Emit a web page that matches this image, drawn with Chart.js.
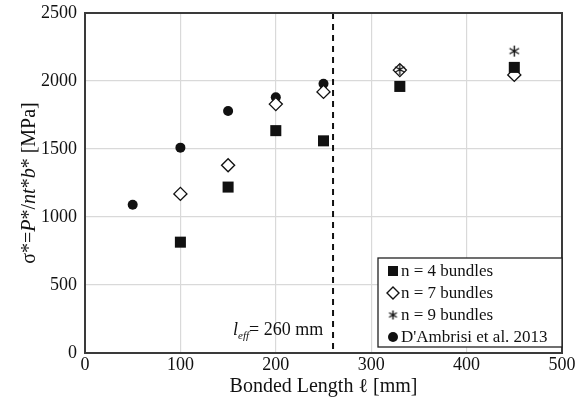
<!DOCTYPE html>
<html><head><meta charset="utf-8">
<script src="https://cdn.jsdelivr.net/npm/chart.js@4/dist/chart.umd.min.js"></script>
<style>html,body{margin:0;padding:0;background:#fff}#wrap{width:581px;height:403px}</style>
</head><body><div id="wrap"><canvas id="c" width="581" height="403"></canvas></div>
<script>
const xTicks = [0, 100, 200, 300, 400, 500];
const yTicks = [0, 500, 1000, 1500, 2000, 2500];
const n4x = [100, 150, 200, 250, 330, 450];
const n4y = [815, 1220, 1635, 1560, 1960, 2100];
const n7x = [100, 150, 200, 250, 330, 450];
const n7y = [1170, 1380, 1830, 1920, 2080, 2045];
const n9x = [330, 450];
const n9y = [2085, 2220];
const dax = [50, 100, 150, 200, 250];
const day = [1090, 1510, 1780, 1880, 1980];
const leff = 260;
const seriesNames = ['n = 4 bundles', 'n = 7 bundles', 'n = 9 bundles', "D'Ambrisi et al. 2013"];

const FONT = 'Liberation Serif';
function pts(xs, ys){ return xs.map((x,i)=>({x:x, y:ys[i]})); }

function asteriskCanvas(s){
  const c = document.createElement('canvas');
  c.width = s; c.height = s;
  const g = c.getContext('2d');
  g.strokeStyle = '#111'; g.lineWidth = 1.4;
  const h = s/2, r = s/2 - 1;
  g.beginPath();
  for (const a of [30, 90, 150]) {
    const rad = a*Math.PI/180;
    g.moveTo(h - r*Math.cos(rad), h - r*Math.sin(rad));
    g.lineTo(h + r*Math.cos(rad), h + r*Math.sin(rad));
  }
  g.stroke();
  return c;
}
const ast = asteriskCanvas(13);
const astSmall = asteriskCanvas(11);

const decor = {
  id: 'decor',
  beforeDatasetsDraw(chart){
    const {ctx, chartArea:a, scales:{x}} = chart;
    ctx.save();
    const px = x.getPixelForValue(leff);
    ctx.strokeStyle = '#111'; ctx.lineWidth = 2; ctx.setLineDash([6,5]);
    ctx.beginPath(); ctx.moveTo(px, a.top); ctx.lineTo(px, a.bottom); ctx.stroke();
    ctx.setLineDash([]);
    ctx.strokeStyle = '#3a3a3a'; ctx.lineWidth = 2;
    ctx.strokeRect(a.left, a.top, a.right - a.left, a.bottom - a.top);
    // annotation
    ctx.fillStyle = '#111'; ctx.textBaseline = 'alphabetic';
    let tx = px - 100, ty = a.bottom - 18;
    ctx.font = 'italic 18px "' + FONT + '"';
    ctx.fillText('l', tx, ty); tx += ctx.measureText('l').width;
    ctx.font = 'italic 11px "' + FONT + '"';
    ctx.fillText('eff', tx, ty + 4); tx += ctx.measureText('eff').width;
    ctx.font = '18px "' + FONT + '"';
    ctx.fillText('= 260 mm', tx, ty);
    ctx.restore();
  },
  afterDraw(chart){
    const {ctx, chartArea:a} = chart;
    ctx.save();
    // y axis title
    const parts = [['σ*=',''],['P','italic '],['*/',''],['nt','italic '],['*',''],['b','italic '],['* [MPa]','']];
    const fs = '20px "' + FONT + '"';
    let total = 0;
    for (const [t,s] of parts){ ctx.font = s + fs; total += ctx.measureText(t).width; }
    ctx.translate(35, (a.top + a.bottom)/2);
    ctx.rotate(-Math.PI/2);
    ctx.fillStyle = '#111'; ctx.textBaseline = 'alphabetic';
    let cx = -total/2;
    for (const [t,s] of parts){ ctx.font = s + fs; ctx.fillText(t, cx, 0); cx += ctx.measureText(t).width; }
    ctx.restore();
    // legend
    ctx.save();
    const lx = a.right - 184, ly = a.bottom - 95, lw = 184, lh = 89;
    ctx.fillStyle = '#fff'; ctx.fillRect(lx, ly, lw, lh);
    ctx.strokeStyle = '#222'; ctx.lineWidth = 1.3; ctx.strokeRect(lx, ly, lw, lh);
    ctx.font = '17px "' + FONT + '"'; ctx.fillStyle = '#111'; ctx.textBaseline = 'middle';
    for (let i=0;i<4;i++){
      const ry = ly + 13 + i*22, mx = lx + 15;
      ctx.fillStyle = '#111'; ctx.strokeStyle = '#111'; ctx.lineWidth = 1.4;
      if (i===0) ctx.fillRect(mx-5, ry-5, 10, 10);
      else if (i===1){ ctx.fillStyle='#fff'; ctx.beginPath(); ctx.moveTo(mx, ry-6); ctx.lineTo(mx+6, ry); ctx.lineTo(mx, ry+6); ctx.lineTo(mx-6, ry); ctx.closePath(); ctx.fill(); ctx.stroke(); }
      else if (i===2) ctx.drawImage(astSmall, mx-5.5, ry-5.5);
      else { ctx.beginPath(); ctx.arc(mx, ry, 5, 0, Math.PI*2); ctx.fill(); }
      ctx.fillStyle = '#111';
      ctx.fillText(seriesNames[i], lx + 23, ry + 1);
    }
    ctx.restore();
  }
};

new Chart(document.getElementById('c'), {
  type: 'scatter',
  data: { datasets: [
    { label: seriesNames[0], data: pts(n4x, n4y), order: 0, pointStyle: 'rect', pointRadius: 7.8, backgroundColor: '#111', borderColor: '#111', borderWidth: 0 },
    { label: seriesNames[1], data: pts(n7x, n7y), order: 1, pointStyle: 'rectRot', pointRadius: 6.5, backgroundColor: '#fff', borderColor: '#111', borderWidth: 1.4 },
    { label: seriesNames[2], data: pts(n9x, n9y), order: -1, pointStyle: ast, pointRadius: 6.5, backgroundColor: '#111', borderColor: '#111' },
    { label: seriesNames[3], data: pts(dax, day), order: 2, pointStyle: 'circle', pointRadius: 5, backgroundColor: '#111', borderColor: '#111', borderWidth: 0 }
  ]},
  options: {
    responsive: false, animation: false, devicePixelRatio: 1,
    layout: { padding: { left: 0, right: 19, top: 13, bottom: 0 } },
    plugins: { legend: { display: false }, tooltip: { enabled: false } },
    scales: {
      x: {
        type: 'linear', min: xTicks[0], max: xTicks[xTicks.length-1],
        afterBuildTicks(s){ s.ticks = xTicks.map(v=>({value:v})); },
        afterFit(s){ s.height = 50; s.paddingLeft = 0; s.paddingRight = 0; },
        ticks: { color: '#111', font: { family: FONT, size: 18 }, padding: 1, maxRotation: 0, callback: v => String(v) },
        grid: { color: '#d9d9d9', lineWidth: 1.2, drawTicks: false },
        border: { color: '#3a3a3a', width: 2 },
        title: { display: true, text: 'Bonded Length ℓ [mm]', color: '#111', font: { family: FONT, size: 20 }, padding: { top: 3 } }
      },
      y: {
        type: 'linear', min: yTicks[0], max: yTicks[yTicks.length-1],
        afterBuildTicks(s){ s.ticks = yTicks.map(v=>({value:v})); },
        afterFit(s){ s.width = 85; s.paddingTop = 0; s.paddingBottom = 0; },
        ticks: { color: '#111', font: { family: FONT, size: 18 }, padding: 8, callback: v => String(v) },
        grid: { color: '#d9d9d9', lineWidth: 1.2, drawTicks: false },
        border: { color: '#3a3a3a', width: 2 }
      }
    }
  },
  plugins: [decor]
});
</script></body></html>
